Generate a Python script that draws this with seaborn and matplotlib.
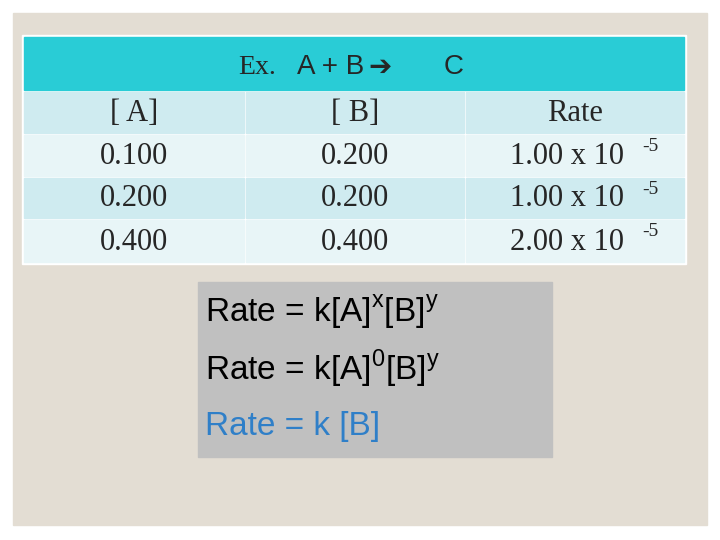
import matplotlib
matplotlib.use("Agg")
import matplotlib.pyplot as plt
import seaborn as sns
from matplotlib.patches import Rectangle

sns.set_style("white")
plt.rcParams['font.family'] = ['DejaVu Sans']
plt.rcParams['axes.unicode_minus'] = False

headers = ["[ A]", "[ B]", "Rate"]
conc_A = ["0.100", "0.200", "0.400"]
conc_B = ["0.200", "0.200", "0.400"]
rate_mant = ["1.00", "1.00", "2.00"]
rate_exp = "-5"

fig = plt.figure(figsize=(7.2, 5.4), dpi=100)
ax = fig.add_axes([0, 0, 1, 1])
ax.set_xlim(0, 720); ax.set_ylim(540, 0); ax.axis("off")

ax.add_patch(Rectangle((13, 13), 694, 512, color="#E3DDD3"))
ax.add_patch(Rectangle((22, 35), 664, 229, color="white"))
ax.add_patch(Rectangle((24, 37), 660, 53, color="#29CCD6"))
ax.text(238, 67, "Ex.", fontsize=20, family="Liberation Serif", va="center", ha="left")
ax.text(297, 67, "A + B", fontsize=20, family="Liberation Sans", va="center", ha="left")
ax.text(368, 67, "\u2794", fontsize=20, family="DejaVu Sans", va="center", ha="left")
ax.text(444, 67, "C", fontsize=20, family="Liberation Sans", va="center", ha="left")

cols = [(24, 244), (246, 464), (466, 684)]
rows = [(92, 133), (135, 176), (178, 218), (220, 262)]
fills = ["#CFEBF0", "#E8F5F7", "#CFEBF0", "#E8F5F7"]
data = [headers] + [[a, b, f"{m} x 10"] for a, b, m in zip(conc_A, conc_B, rate_mant)]
for r, (y0, y1) in enumerate(rows):
    for c, (x0, x1) in enumerate(cols):
        ax.add_patch(Rectangle((x0, y0), x1 - x0, y1 - y0, color=fills[r]))
        cx = (x0 + x1) / 2 - (8 if (c == 2 and r > 0) else 0)
        t = ax.text(cx, (y0 + y1) / 2 + 1, data[r][c], fontsize=22,
                    family="Liberation Serif", ha="center", va="center")
        if c == 2 and r > 0:
            ax.text(cx + 75, (y0 + y1) / 2 - 9, rate_exp, fontsize=14,
                    family="Liberation Serif", ha="left", va="center")

ax.add_patch(Rectangle((198, 282), 354, 175, color="#C0C0C0"))
eqs = ["Rate = k[A]$^{\\mathregular{x}}$[B]$^{\\mathregular{y}}$",
       "Rate = k[A]$^{\\mathregular{0}}$[B]$^{\\mathregular{y}}$",
       "Rate = k [B]"]
colors = ["black", "black", "#2F7FC8"]
for i, (e, col) in enumerate(zip(eqs, colors)):
    ax.text(205, 312 + i * 57, e, fontsize=24, family="Liberation Sans", color=col,
            ha="left", va="center")

fig.savefig("out.png", dpi=100)
